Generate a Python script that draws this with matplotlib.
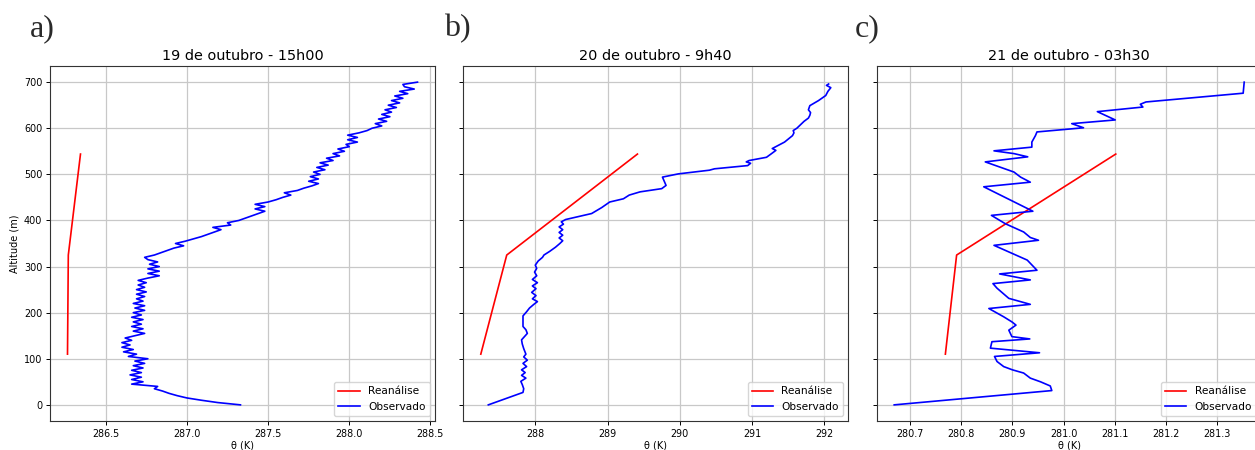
import matplotlib
matplotlib.use("Agg")
import matplotlib.pyplot as plt

# ---------------- data ----------------
titles = ["19 de outubro - 15h00", "20 de outubro - 9h40", "21 de outubro - 03h30"]
panel_labels = ["a)", "b)", "c)"]

rea_alt = [110, 325, 544]
rea_a = [286.265, 286.27, 286.345]
rea_b = [287.246, 287.605, 289.414]
rea_c = [280.769, 280.791, 281.102]

obs_a_alt = list(range(0, 705, 5))
obs_a = [
    287.33, 287.19, 287.09, 287.00, 286.94, 286.89, 286.85, 286.80, 286.82, 286.66,
    286.73, 286.66, 286.72, 286.65, 286.72, 286.66, 286.73, 286.67, 286.74, 286.68,
    286.76, 286.64, 286.69, 286.61, 286.67, 286.60, 286.65, 286.60, 286.66, 286.62,
    286.68, 286.74, 286.67, 286.73, 286.66, 286.72, 286.67, 286.73, 286.66, 286.72,
    286.67, 286.74, 286.68, 286.74, 286.67, 286.73, 286.69, 286.74, 286.69, 286.75,
    286.69, 286.74, 286.70, 286.75, 286.70, 286.76, 286.83, 286.76, 286.83, 286.76,
    286.83, 286.77, 286.82, 286.76, 286.74, 286.80, 286.84, 286.88, 286.92, 286.98,
    286.93, 286.99, 287.04, 287.09, 287.13, 287.17, 287.21, 287.16, 287.27, 287.25,
    287.32, 287.36, 287.40, 287.44, 287.48, 287.42, 287.48, 287.42, 287.50, 287.55,
    287.59, 287.64, 287.60, 287.68, 287.72, 287.77, 287.81, 287.75, 287.81, 287.76,
    287.82, 287.78, 287.85, 287.80, 287.87, 287.82, 287.90, 287.86, 287.94, 287.90,
    287.97, 287.93, 288.00, 287.98, 288.05, 287.99, 288.05, 287.99, 288.06, 288.11,
    288.14, 288.20, 288.16, 288.23, 288.18, 288.25, 288.20, 288.26, 288.22, 288.29,
    288.24, 288.31, 288.26, 288.33, 288.28, 288.36, 288.31, 288.40, 288.34, 288.33,
    288.42,
]

obs_b_alt = [0, 27, 35, 44, 51, 58, 64, 70, 76, 83, 90, 97, 104, 110, 122, 132, 141,
             148, 155, 163, 170, 182, 193, 202, 210, 218, 224, 230, 237, 244, 252, 258,
             265, 272, 280, 288, 296, 303, 312, 320, 325, 333, 342, 350, 356, 362, 368,
             374, 380, 386, 392, 397, 402, 415, 428, 440, 447, 455, 462, 469, 476, 494,
             501, 509, 512, 519, 524, 527, 530, 537, 545, 552, 556, 570, 584, 590, 595,
             600, 606, 615, 622, 628, 634, 640, 649, 660, 671, 680, 688, 693, 696]
obs_b = [287.35, 287.83, 287.84, 287.82, 287.80, 287.87, 287.81, 287.86, 287.81, 287.88,
         287.83, 287.89, 287.84, 287.87, 287.84, 287.82, 287.81, 287.85, 287.89, 287.87,
         287.83, 287.83, 287.83, 287.88, 287.92, 287.98, 288.03, 287.96, 288.01, 287.95,
         288.01, 287.96, 288.03, 287.96, 288.02, 287.99, 288.02, 288.00, 288.04, 288.10,
         288.12, 288.20, 288.28, 288.34, 288.38, 288.33, 288.38, 288.33, 288.38, 288.33,
         288.39, 288.36, 288.42, 288.78, 288.92, 289.03, 289.22, 289.30, 289.45, 289.75,
         289.81, 289.76, 289.98, 290.41, 290.48, 290.94, 290.98, 290.92, 290.96, 291.20,
         291.27, 291.33, 291.28, 291.45, 291.56, 291.58, 291.57, 291.62, 291.66, 291.72,
         291.78, 291.80, 291.81, 291.78, 291.80, 291.92, 292.02, 292.05, 292.09, 292.03,
         292.06]

obs_c_alt = [0, 31, 41, 50, 58, 69, 76, 83, 94, 105, 113, 123, 137, 143, 148, 162, 173,
             180, 191, 209, 218, 231, 253, 263, 271, 284, 292, 314, 346, 357, 363, 375,
             393, 411, 420, 473, 483, 494, 505, 527, 538, 545, 551, 559, 570, 584, 592,
             601, 610, 618, 636, 646, 652, 657, 676, 700]
obs_c = [280.669, 280.977, 280.974, 280.955, 280.935, 280.922, 280.900, 280.883, 280.870,
         280.865, 280.953, 280.857, 280.860, 280.934, 280.899, 280.893, 280.907, 280.899,
         280.883, 280.854, 280.935, 280.893, 280.870, 280.862, 280.935, 280.875, 280.948,
         280.929, 280.864, 280.951, 280.935, 280.922, 280.886, 280.859, 280.940, 280.844,
         280.935, 280.916, 280.903, 280.847, 280.930, 280.903, 280.864, 280.938, 280.938,
         280.945, 280.948, 281.039, 281.016, 281.101, 281.066, 281.155, 281.150, 281.161,
         281.351, 281.353]

rea_series = [rea_a, rea_b, rea_c]
obs_series = [(obs_a_alt, obs_a), (obs_b_alt, obs_b), (obs_c_alt, obs_c)]
yticks = [0, 100, 200, 300, 400, 500, 600, 700]

# ---------------- figure ----------------
W, H = 1255, 450
fig = plt.figure(figsize=(W / 100, H / 100), dpi=100)

lefts = [50, 463.3, 876.7]
ax_w, ax_top, ax_bot = 385, 66, 421
label_x = [42, 457, 867]

axes = []
for i in range(3):
    rect = [lefts[i] / W, 1 - ax_bot / H, ax_w / W, (ax_bot - ax_top) / H]
    if i == 0:
        ax = fig.add_axes(rect)
    else:
        ax = fig.add_axes(rect, sharey=axes[0])
    axes.append(ax)

for i, ax in enumerate(axes):
    ax.plot(rea_series[i], rea_alt, color="red", lw=1.2, label="Reanálise")
    ax.plot(obs_series[i][1], obs_series[i][0], color="blue", lw=1.2, label="Observado")
    ax.grid(True, color="#c8c8c8", lw=0.9)
    ax.set_axisbelow(True)
    ax.set_title(titles[i], fontsize=10.4, pad=4)
    ax.set_xlabel("θ (K)", fontsize=7, labelpad=1)
    ax.tick_params(labelsize=6.9, length=3, width=0.7, pad=2.5)
    for s in ax.spines.values():
        s.set_linewidth(0.8)
        s.set_color("#333333")
    ax.legend(loc="lower right", fontsize=7.6, handlelength=2.0, borderaxespad=0.5,
              framealpha=0.8, fancybox=True)
    if i > 0:
        ax.tick_params(labelleft=False)
    fig.text(label_x[i] / W, 1 - 29 / H, panel_labels[i], fontsize=23,
             family="Liberation Serif", color="#2a2a2a", ha="center", va="center")

axes[0].set_yticks(yticks)
axes[0].set_ylabel("Altitude (m)", fontsize=7, labelpad=3)

fig.savefig("out.png", dpi=100)
